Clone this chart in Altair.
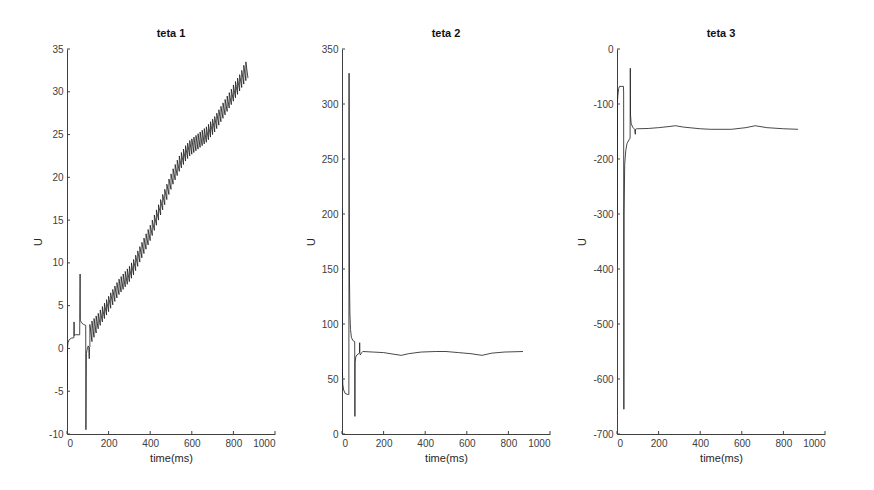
import altair as alt
import pandas as pd

FONT = "Liberation Sans"
AX = "#404040"

# ---------- teta 1 ----------
t1_early_t = [0, 0.5, 2, 5, 10, 20, 33, 34, 35, 40, 61, 61.5, 63, 64, 70, 80, 90, 91, 93, 97, 102, 105, 107, 108]
t1_early_v = [-4.8, -1.0, 0.0, 0.7, 1.0, 1.2, 1.25, 3.1, 1.5, 1.6, 1.6, 3.4, 8.7, 3.3, 3.0, 2.8, 2.7, -9.5, -0.6, -0.1, 0.3, 0.1, -1.2, 0.1]
t1_tooth_t = [110, 120, 130, 140, 150, 160, 170, 180, 190, 200, 210, 220, 230, 240, 250, 260, 270, 280, 290, 300,
              310, 320, 330, 340, 350, 360, 370, 380, 390, 400, 410, 420, 430, 440, 450, 460, 470, 480, 490, 500,
              510, 520, 530, 540, 550, 560, 570, 580, 590, 600, 610, 620, 630, 640, 650, 660, 670, 680, 690, 700,
              710, 720, 730, 740, 750, 760, 770, 780, 790, 800, 810, 820, 830, 840, 850, 860]
t1_tooth_low = [0.2, 0.8, 1.3, 1.8, 2.3, 2.7, 3.1, 3.5, 3.9, 4.3, 4.7, 5.1, 5.5, 5.9, 6.3, 6.6, 6.9, 7.2, 7.5, 7.8,
                8.2, 8.6, 9.1, 9.6, 10.1, 10.6, 11.1, 11.6, 12.1, 12.6, 13.2, 13.8, 14.4, 15.0, 15.6, 16.2, 16.8, 17.4, 18.0, 18.6,
                19.2, 19.7, 20.2, 20.7, 21.1, 21.5, 21.9, 22.2, 22.5, 22.7, 22.9, 23.1, 23.3, 23.5, 23.7, 23.9, 24.1, 24.4, 24.7, 25.0,
                25.3, 25.7, 26.1, 26.5, 26.9, 27.3, 27.7, 28.1, 28.5, 28.9, 29.3, 29.7, 30.1, 30.5, 30.9, 31.3]
t1_tooth_high = [2.8, 3.2, 3.5, 3.8, 4.1, 4.5, 4.9, 5.3, 5.7, 6.1, 6.5, 6.9, 7.3, 7.7, 8.1, 8.4, 8.7, 9.0, 9.3, 9.6,
                 10.0, 10.4, 10.9, 11.4, 11.9, 12.4, 12.9, 13.4, 13.9, 14.4, 15.0, 15.6, 16.2, 16.8, 17.4, 18.0, 18.6, 19.2, 19.8, 20.4,
                 21.0, 21.5, 22.0, 22.5, 22.9, 23.3, 23.7, 24.0, 24.3, 24.5, 24.7, 24.9, 25.1, 25.3, 25.5, 25.7, 25.9, 26.2, 26.5, 26.8,
                 27.1, 27.5, 27.9, 28.3, 28.7, 29.1, 29.5, 29.9, 30.3, 30.8, 31.2, 31.6, 32.0, 32.5, 33.1, 33.5]
t1_end_t = [870]
t1_end_v = [31.6]

# ---------- teta 2 ----------
t2_t = [0, 0.5, 1.5, 4, 8, 15, 25, 33, 34, 35, 36, 38, 41, 45, 52, 61, 62, 63, 66, 72, 80, 84, 85, 86, 88, 95, 100,
        150, 200, 250, 285, 320, 380, 450, 500, 560, 620, 673, 720, 780, 870]
t2_v = [205, 120, 60, 45, 40, 37, 36, 36, 328, 200, 140, 110, 95, 88, 85, 84, 16, 65, 70, 72, 73, 74, 83, 73, 72, 74, 75,
        74.5, 74, 72.5, 71.5, 73, 74.5, 75, 75, 74, 73, 71.5, 73.5, 74.5, 75]

# ---------- teta 3 ----------
t3_t = [0, 0.5, 1.5, 4, 8, 12, 31, 32, 33, 34, 37, 42, 48, 58, 63, 64, 65, 68, 75, 85, 88, 89, 95, 100,
        150, 200, 250, 281, 320, 400, 450, 550, 620, 665, 720, 800, 870]
t3_v = [-390, -200, -100, -85, -72, -68, -68, -80, -655, -300, -210, -185, -172, -165, -162, -35, -120, -135, -142, -146, -155, -146, -145, -145,
        -144.5, -143, -141, -139.5, -142, -145, -146, -146, -143, -139.5, -143, -145, -146]

x_ticks = [0, 200, 400, 600, 800, 1000]
y1_ticks = [-10, -5, 0, 5, 10, 15, 20, 25, 30, 35]
y2_ticks = [0, 50, 100, 150, 200, 250, 300, 350]
y3_ticks = [-700, -600, -500, -400, -300, -200, -100, 0]

# build ordered path for teta 1
p1_t, p1_v = list(t1_early_t), list(t1_early_v)
for tt, lo, hi in zip(t1_tooth_t, t1_tooth_low, t1_tooth_high):
    p1_t += [tt, tt]
    p1_v += [lo, hi]
p1_t += t1_end_t
p1_v += t1_end_v

W, H = 208, 385
LBL = "'' + datum.value"


def panel(ts, vs, title, ydom, yticks):
    df = pd.DataFrame({"t": ts, "v": vs, "o": list(range(len(ts)))})
    xs = alt.Scale(domain=[0, 1000], nice=False, zero=False)
    ys = alt.Scale(domain=ydom, nice=False, zero=False)
    xa = alt.Axis(values=x_ticks, title="time(ms)", labelExpr=LBL)
    ya = alt.Axis(values=yticks, title="U", labelExpr=LBL)
    line = alt.Chart(df).mark_line(color="#1a1a1a", strokeWidth=0.8, clip=True).encode(
        x=alt.X("t:Q", scale=xs, axis=xa),
        y=alt.Y("v:Q", scale=ys, axis=ya),
        order="o:Q",
    )
    xt = alt.Chart(pd.DataFrame({"t": x_ticks})).mark_rule(color=AX, strokeWidth=1).encode(
        x=alt.X("t:Q", scale=xs, axis=xa), y=alt.value(H), y2=alt.value(H - 3))
    yt = alt.Chart(pd.DataFrame({"v": yticks})).mark_rule(color=AX, strokeWidth=1).encode(
        y=alt.Y("v:Q", scale=ys, axis=ya), x=alt.value(0), x2=alt.value(3))
    return alt.layer(line, xt, yt).properties(
        width=W, height=H,
        title=alt.TitleParams(title, font=FONT, fontSize=11, fontWeight="bold", color="#111111", offset=5),
    )


c1 = panel(p1_t, p1_v, "teta 1", [-10, 35], y1_ticks)
c2 = panel(t2_t, t2_v, "teta 2", [0, 350], y2_ticks)
c3 = panel(t3_t, t3_v, "teta 3", [-700, 0], y3_ticks)

chart = alt.hconcat(c1, c2, c3, spacing=67, bounds="flush").properties(
    padding={"left": 32, "top": 28, "right": 5, "bottom": 5},
    background="white",
).configure_view(stroke=None).configure_axis(
    grid=False, ticks=False, domainColor=AX, domainWidth=1,
    labelFont=FONT, labelFontSize=10, labelColor=AX, labelPadding=4,
    titleFont=FONT, titleFontSize=11, titleFontWeight="normal", titleColor="#262626", titlePadding=4,
).configure_axisY(titlePadding=5)

chart.save("out.html", embed_options={"renderer": "svg", "actions": False})
